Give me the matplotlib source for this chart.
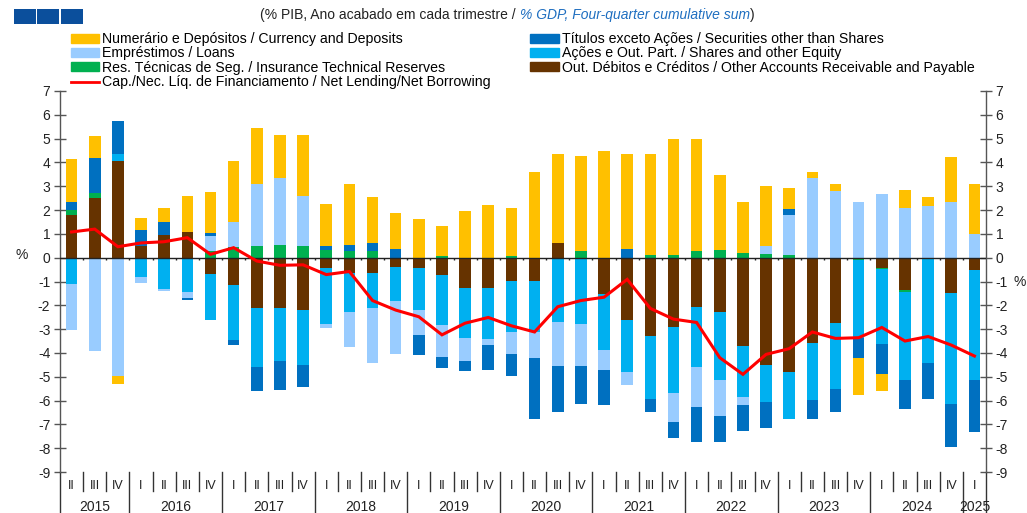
import matplotlib
matplotlib.use("Agg")
import matplotlib.pyplot as plt
import matplotlib.transforms as mtransforms
import numpy as np
from matplotlib.patches import Patch, Rectangle
from matplotlib.lines import Line2D

plt.rcParams['font.family'] = ['Liberation Sans', 'DejaVu Sans']

# quarters 2015 II .. 2025 I
quarter_labels = ['II', 'III', 'IV'] + ['I', 'II', 'III', 'IV'] * 9 + ['I']
years = ['2015', '2016', '2017', '2018', '2019', '2020', '2021', '2022', '2023', '2024', '2025']

# components (% GDP)
other_accounts = [1.8, 2.5, 4.05, 0.5, 0.95, 1.07, -0.68, -1.14, -2.12, -2.1, -2.2, -0.42, -0.63, -0.65, -0.4, -0.45,
                  -0.72, -1.26, -1.28, -0.96, -0.96, 0.6, 0, -1.52, -2.62, -3.29, -2.93, -2.09, -2.3, -3.71, -4.51,
                  -4.8, -3.57, -2.75, 0, -0.42, -1.34, 0, -1.5, -0.51]
insurance = [0.2, 0.2, 0, 0, 0, 0, 0.28, 0.46, 0.5, 0.55, 0.5, 0.34, 0.28, 0.28, 0, 0, 0.07, 0, 0, 0.07, 0, 0.03,
             0.28, 0, 0, 0.1, 0.1, 0.28, 0.32, 0.18, 0.14, 0.1, 0, 0, -0.11, -0.07, -0.08, 0, 0, 0]
shares = [-1.1, 0, 0.3, -0.8, -1.33, -1.43, -1.93, -2.32, -2.48, -2.24, -2.3, -2.37, -1.67, -1.48, -1.4, -1.75, -2.11,
          -2.1, -2.15, -2.16, -2.16, -2.69, -2.79, -2.36, -2.19, -2.63, -2.75, -2.49, -2.82, -2.16, -1.55, -1.98,
          -2.42, -2.76, -3.25, -3.15, -3.7, -4.41, -4.64, -4.61]
loans = [-1.95, -3.9, -4.95, -0.25, -0.08, -0.25, 0.63, 1.05, 2.6, 2.8, 2.1, -0.17, -1.44, -2.28, -2.23, -1.06, -1.33,
         -0.98, -0.25, -0.94, -1.08, -1.87, -1.77, -0.82, -0.52, 0, -1.2, -1.7, -1.51, -0.31, 0.35, 1.68, 3.36, 2.8,
         2.35, 2.66, 2.1, 2.16, 2.35, 0.98]
securities = [0.33, 1.5, 1.4, 0.65, 0.55, -0.1, 0.14, -0.2, -1.0, -1.2, -0.95, 0.15, 0.25, 0.34, 0.35, -0.83, -0.47,
              -0.43, -1.02, -0.92, -2.58, -1.9, -1.58, -1.5, 0.35, -0.58, -0.68, -1.48, -1.13, -1.1, -1.08, 0.25,
              -0.79, -0.95, -0.84, -1.26, -1.23, -1.53, -1.8, -2.19]
currency = [1.82, 0.9, -0.35, 0.5, 0.6, 1.53, 1.7, 2.55, 2.35, 1.8, 2.55, 1.77, 2.58, 1.94, 1.54, 1.61, 1.27, 1.96,
            2.2, 2.0, 3.6, 3.74, 3.99, 4.48, 4.02, 4.24, 4.87, 4.69, 3.14, 2.17, 2.52, 0.88, 0.25, 0.28, -1.55, -0.71,
            0.73, 0.4, 1.89, 2.13]
net_lending = [1.08, 1.2, 0.46, 0.62, 0.67, 0.84, 0.14, 0.42, -0.14, -0.32, -0.3, -0.71, -0.58, -1.8, -2.2, -2.48,
               -3.24, -2.75, -2.51, -2.86, -3.12, -2.06, -1.8, -1.66, -0.91, -2.13, -2.58, -2.72, -4.2, -4.9, -4.06,
               -3.82, -3.12, -3.39, -3.36, -2.93, -3.5, -3.31, -3.67, -4.13]

lbl_currency = 'Numerário e Depósitos / Currency and Deposits'
lbl_loans = 'Empréstimos / Loans'
lbl_insurance = 'Res. Técnicas de Seg. / Insurance Technical Reserves'
lbl_net = 'Cap./Nec. Líq. de Financiamento / Net Lending/Net Borrowing'
lbl_securities = 'Títulos exceto Ações / Securities other than Shares'
lbl_shares = 'Ações e Out. Part. / Shares and other Equity'
lbl_other = 'Out. Débitos e Créditos / Other Accounts Receivable and Payable'

c_currency = '#FFC000'
c_loans = '#99CCFF'
c_insurance = '#00B050'
c_securities = '#0070C0'
c_shares = '#00B0F0'
c_other = '#663300'

W, H = 1027, 513
fig = plt.figure(figsize=(W / 100, H / 100), dpi=100)
ax = fig.add_axes([60 / W, 1 - 472 / H, (986 - 60) / W, (472 - 91) / H])

x = np.arange(len(net_lending))
series = [(other_accounts, c_other), (insurance, c_insurance), (shares, c_shares),
          (loans, c_loans), (securities, c_securities), (currency, c_currency)]
pos_bottom = np.zeros(len(x))
neg_bottom = np.zeros(len(x))
for vals, col in series:
    v = np.array(vals, dtype=float)
    bottom = np.where(v >= 0, pos_bottom, neg_bottom)
    ax.bar(x, v, 0.5, bottom=bottom, color=col, linewidth=0, zorder=2)
    pos_bottom += np.clip(v, 0, None)
    neg_bottom += np.clip(v, None, 0)

ax.plot(x, net_lending, color='#FF0000', lw=2.2, zorder=4, solid_joinstyle='miter')
ax.axhline(0, color='#222222', lw=1.0, zorder=3)
# small marks on the zero line between bars
ax.vlines(x[:-1] + 0.5, -0.1, 0, color='#222222', lw=1.0, zorder=3)

ax.set_xlim(-0.5, len(x) - 0.5)
ax.set_ylim(-9, 7)
ax.set_yticks(range(-9, 8))
ax.set_yticklabels([str(v) for v in range(-9, 8)])
ax.tick_params(axis='y', direction='inout', length=8, width=1, color='#555555', labelsize=10,
               labelcolor='#222222', left=True, right=True, labelleft=True, labelright=True, pad=3)
ax.set_xticks([])
for s in ['top', 'bottom']:
    ax.spines[s].set_visible(False)
for s in ['left', 'right']:
    ax.spines[s].set_color('#555555')
    ax.spines[s].set_linewidth(1)

# category axis below the plot
trans = mtransforms.blended_transform_factory(ax.transData, ax.transAxes)
axh = 472 - 91
for b in np.arange(-0.5, len(x), 1.0):
    nxt = int(b + 0.5)
    long = b < 0 or nxt >= len(x) or quarter_labels[nxt] == 'I'
    y1 = -41 / axh if long else -19 / axh
    ax.plot([b, b], [0, y1], color='#333333', lw=1, transform=trans, clip_on=False)
for i, q in enumerate(quarter_labels):
    ax.text(i, -14 / axh, q, transform=trans, ha='center', va='center', fontsize=9, color='#222222')
starts = [i for i, q in enumerate(quarter_labels) if q == 'I']
bounds = [0] + starts + [len(x)]
for yr, a, b in zip(years, bounds[:-1], bounds[1:]):
    ax.text((a + b - 1) / 2, -35 / axh, yr, transform=trans, ha='center', va='center', fontsize=10, color='#222222')

fig.text(22 / W, 1 - 255 / H, '%', ha='center', va='center', fontsize=10, color='#222222')
fig.text(1020 / W, 1 - 282 / H, '%', ha='center', va='center', fontsize=10, color='#222222')

# header squares
for x0 in [14, 37, 61]:
    fig.patches.append(Rectangle((x0 / W, 1 - 24 / H), 22 / W, 15 / H, transform=fig.transFigure,
                                 facecolor='#0B4F9C', edgecolor='none'))

# subtitle in three pieces
renderer = fig.canvas.get_renderer()
t1 = fig.text(260 / W, 1 - 15 / H, '(% PIB, Ano acabado em cada trimestre / ', fontsize=10, color='#222222',
              va='center', ha='left')
bb = t1.get_window_extent(renderer)
t2 = fig.text(bb.x1 / W, 1 - 15 / H, '% GDP, Four-quarter cumulative sum', fontsize=10, color='#1E6EC0',
              style='italic', va='center', ha='left')
bb = t2.get_window_extent(renderer)
fig.text(bb.x1 / W, 1 - 15 / H, ')', fontsize=10, color='#222222', va='center', ha='left')

handles = [Patch(color=c_currency), Patch(color=c_loans), Patch(color=c_insurance),
           Line2D([], [], color='#FF0000', lw=2),
           Patch(color=c_securities), Patch(color=c_shares), Patch(color=c_other)]
labels = [lbl_currency, lbl_loans, lbl_insurance, lbl_net, lbl_securities, lbl_shares, lbl_other]
fig.legend(handles, labels, ncol=2, loc='upper left', bbox_to_anchor=(71 / W, 1 - 32 / H), frameon=False,
           fontsize=10.2, handlelength=2.0, handleheight=0.6, handletextpad=0.2, labelspacing=0.03,
           columnspacing=2.8, borderpad=0, borderaxespad=0)

fig.savefig('out.png', dpi=100)
